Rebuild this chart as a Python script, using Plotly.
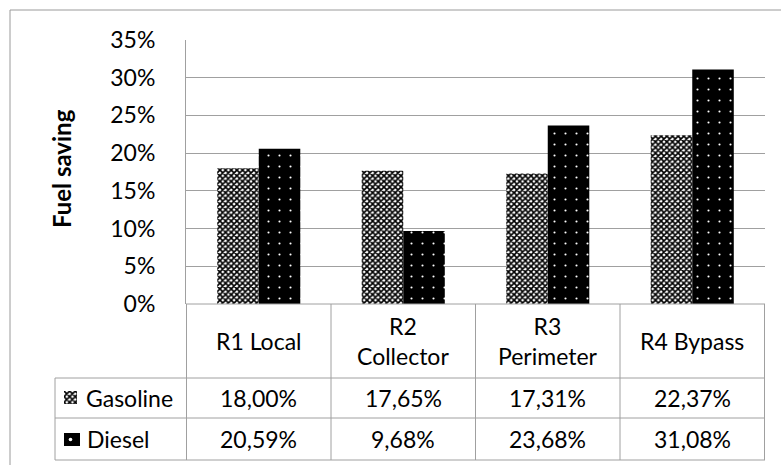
import plotly.graph_objects as go

# ---- data ----
categories = ["R1 Local", "R2 Collector", "R3 Perimeter", "R4 Bypass"]
header_labels = ["R1 Local", "R2<br>Collector", "R3<br>Perimeter", "R4 Bypass"]
series_names = ["Gasoline", "Diesel"]
gasoline = [18.00, 17.65, 17.31, 22.37]
diesel = [20.59, 9.68, 23.68, 31.08]
y_ticks = [0, 5, 10, 15, 20, 25, 30, 35]
y_title = "Fuel saving"

# ---- geometry helpers (pixel -> paper) ----
W, H = 781, 465
def px(x):
    return x / W
def py(y):
    return (H - y) / H

PL, PR, PT, PB = 186, 765, 40, 304
FONT = "Lato, 'Open Sans', sans-serif"
FS = 23
GRID = "#A0A0A0"

def fmt(v):
    return f"{v:.2f}%".replace(".", ",")

gas_pattern = dict(shape="x", size=4, solidity=0.65, fgcolor="black",
                   bgcolor="white", fillmode="replace")
die_pattern = dict(shape=".", size=11, solidity=0.03, fgcolor="white",
                   bgcolor="black", fillmode="replace")

fig = go.Figure()
fig.add_trace(go.Bar(x=categories, y=[v / 100 for v in gasoline], name=series_names[0],
                     marker=dict(color="white", line=dict(width=0), pattern=gas_pattern),
                     showlegend=False))
fig.add_trace(go.Bar(x=categories, y=[v / 100 for v in diesel], name=series_names[1],
                     marker=dict(color="black", line=dict(width=0), pattern=die_pattern),
                     showlegend=False))

# legend swatches inside the data table
fig.add_trace(go.Bar(x=[0], y=[1], width=[1], xaxis="x2", yaxis="y2", showlegend=False,
                     marker=dict(color="white", line=dict(width=0), pattern=gas_pattern),
                     hoverinfo="skip"))
fig.add_trace(go.Bar(x=[0], y=[1], width=[1], xaxis="x3", yaxis="y3", showlegend=False,
                     marker=dict(color="black", line=dict(width=0),
                                 pattern=dict(shape=".", size=13, solidity=0.06, fgcolor="white",
                                              bgcolor="black", fillmode="replace")),
                     hoverinfo="skip"))

shapes = []
def line(x0, y0, x1, y1, xref="paper"):
    shapes.append(dict(type="line", xref=xref, yref="paper", x0=x0, y0=y0, x1=x1, y1=y1,
                       line=dict(color=GRID, width=1)))

# outer chart border (cropped at right / bottom)
shapes.append(dict(type="rect", xref="paper", yref="paper", x0=px(10), y0=-0.1,
                   x1=1.1, y1=py(10), line=dict(color="#9A9A9A", width=1),
                   fillcolor="rgba(0,0,0,0)", layer="below"))

# data table lines
line(px(PL), py(PB), px(PR), py(PB))
for yy in (378, 418, 460):
    line(px(55), py(yy), px(PR), py(yy))
line(px(55), py(378), px(55), py(460))
for i in range(len(categories) + 1):
    line(i - 0.5, py(PB), i - 0.5, py(460), xref="x")

TF = dict(family=FONT, size=FS, color="black")
ann = []
for i, lab in enumerate(header_labels):
    ann.append(dict(x=i, xref="x", y=py(341), yref="paper", text=lab, showarrow=False,
                    xanchor="center", yanchor="middle", font=TF, align="center"))
    ann.append(dict(x=i, xref="x", y=py(398), yref="paper", text=fmt(gasoline[i]),
                    xanchor="center", yanchor="middle", showarrow=False, font=TF))
    ann.append(dict(x=i, xref="x", y=py(439), yref="paper", text=fmt(diesel[i]),
                    xanchor="center", yanchor="middle", showarrow=False, font=TF))

ann.append(dict(x=px(84), y=py(398), xref="paper", yref="paper", text=series_names[0],
                xanchor="left", yanchor="middle", showarrow=False, font=TF))
ann.append(dict(x=px(85), y=py(439), xref="paper", yref="paper", text=series_names[1],
                xanchor="left", yanchor="middle", showarrow=False, font=TF))
ann.append(dict(x=px(61), y=py(168), xref="paper", yref="paper", text=f"<b>{y_title}</b>",
                xanchor="center", yanchor="middle",
                textangle=-90, showarrow=False, font=dict(family=FONT, size=24, color="black")))

hidden = dict(range=[-0.5, 0.5], visible=False, automargin=False, fixedrange=True)
fig.update_layout(
    width=W, height=H,
    margin=dict(l=0, r=0, t=0, b=0, pad=0, autoexpand=False),
    paper_bgcolor="white", plot_bgcolor="white",
    barmode="group", bargap=0.425, bargroupgap=0,
    showlegend=False,
    font=dict(family=FONT, size=FS, color="black"),
    xaxis=dict(domain=[px(PL), px(PR)], showticklabels=False, showgrid=False,
               zeroline=False, showline=False, ticks="", fixedrange=True, automargin=False),
    yaxis=dict(domain=[py(PB), py(PT)], range=[0, 0.35],
               tickvals=[t / 100 for t in y_ticks], ticktext=[f"{t}%" for t in y_ticks],
               showgrid=True, gridcolor=GRID, gridwidth=1, zeroline=False,
               showline=True, linecolor=GRID, linewidth=1, ticks="",
               ticklabelstandoff=25, tickfont=TF, automargin=False, fixedrange=True),
    xaxis2=dict(domain=[px(64), px(77)], anchor="y2", **hidden),
    yaxis2=dict(domain=[py(404), py(391)], anchor="x2",
                **{**hidden, "range": [0, 1]}),
    xaxis3=dict(domain=[px(64), px(80)], anchor="y3", **hidden),
    yaxis3=dict(domain=[py(446), py(433)], anchor="x3",
                **{**hidden, "range": [0, 1]}),
    shapes=shapes,
    annotations=ann,
)

fig.write_html("out.html", config={"displayModeBar": False},
               post_script="document.body.style.margin='0px';")
